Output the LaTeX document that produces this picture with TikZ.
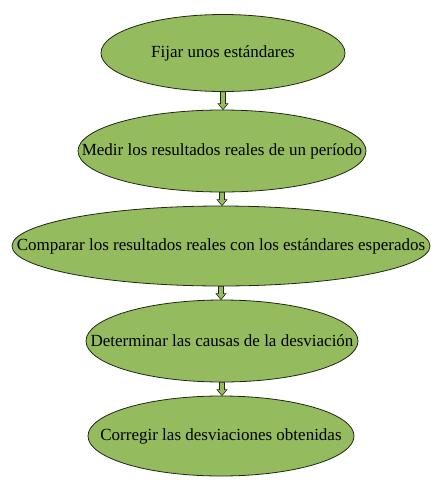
\documentclass[tikz,border=0pt]{standalone}
\usepackage{fontspec}
\setmainfont{Liberation Serif}
\usetikzlibrary{shapes.geometric,calc}
\definecolor{leaf}{RGB}{148,187,94}
\definecolor{rim}{RGB}{30,40,20}
\tikzset{
  stage/.style={ellipse,draw=rim,line width=0.8pt,fill=leaf,inner sep=0pt},
  caption/.style={font=\fontsize{17}{20}\selectfont,text=black,inner sep=0pt},
}
\newcommand{\blockarrow}[2]{%
  \path let \p1=(#1.south), \p2=(#2.north) in
    [draw=rim,fill=leaf,line width=0.6pt]
    (\x1-2.5,\y1) -- (\x1+2.5,\y1) -- (\x1+2.5,\y2+6) -- (\x1+5,\y2+6)
    -- (\x1,\y2) -- (\x1-5,\y2+6) -- (\x1-2.5,\y2+6) -- cycle;}
\begin{document}
\begin{tikzpicture}[x=1pt,y=-1pt]
\useasboundingbox (0,0) rectangle (443,488);
\node[stage,minimum width=244pt,minimum height=77pt] (e1) at (223,53) {};
\node[stage,minimum width=288pt,minimum height=82pt] (e2) at (222,151) {};
\node[stage,minimum width=418pt,minimum height=80pt] (e3) at (221,246) {};
\node[stage,minimum width=272pt,minimum height=82pt] (e4) at (222,341) {};
\node[stage,minimum width=266pt,minimum height=80pt] (e5) at (221,436) {};
\node[caption] (t1) at (e1) {Fijar unos estándares};
\node[caption] (t2) at (e2) {Medir los resultados reales de un período};
\node[caption] (t3) at (e3) {Comparar los resultados reales con los estándares esperados};
\node[caption] (t4) at (e4) {Determinar las causas de la desviación};
\node[caption] (t5) at (e5) {Corregir las desviaciones obtenidas};
\blockarrow{e1}{e2}
\blockarrow{e2}{e3}
\blockarrow{e3}{e4}
\blockarrow{e4}{e5}
\end{tikzpicture}
\end{document}
